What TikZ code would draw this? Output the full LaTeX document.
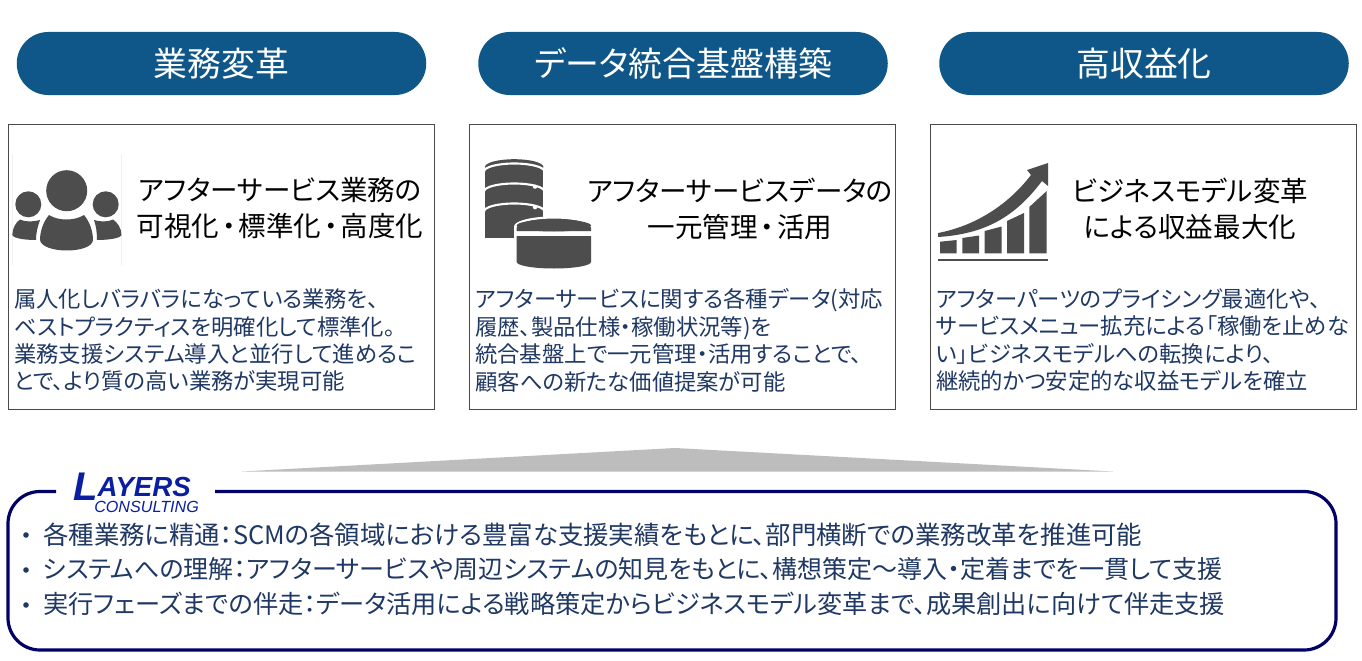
\documentclass[tikz,border=0pt]{standalone}
\usepackage{fontspec}
\setmainfont{Noto Sans CJK JP}[RawFeature=+palt]
\newfontfamily\logofont{Liberation Sans}
\definecolor{pillblue}{HTML}{0F5788}
\definecolor{bodynavy}{HTML}{1F3864}
\definecolor{framenavy}{HTML}{000066}
\definecolor{icongray}{HTML}{4D4D4D}
\definecolor{logoblue}{HTML}{0A1FA0}
\definecolor{boxgray}{HTML}{4A4A4A}
\newcommand{\middot}{\hspace{0.1em}・\hspace{0.1em}}
\tikzset{
  pill/.style={fill=pillblue,text=white,rounded corners=31.5*0.75pt,minimum width=409.5*0.75pt,minimum height=63*0.75pt,inner sep=0pt,font=\fontsize{25.4}{30}\selectfont},
  cardbox/.style={draw=boxgray,line width=0.65pt,fill=white,minimum width=426.5*0.75pt,minimum height=285*0.75pt,inner sep=0pt},
  headtext/.style={text=black,align=center,inner sep=0pt,font=\fontsize{20.65}{27}\selectfont},
  bodytext/.style={text=bodynavy,align=left,anchor=north west,inner sep=0pt,font=\fontsize{16.75}{20.6}\selectfont},
  bullettext/.style={text=bodynavy,anchor=west,inner sep=0pt},
  bulletdot/.style={circle,fill=bodynavy,minimum size=4.2pt,inner sep=0pt},
}
\begin{document}
\begin{tikzpicture}[x=0.75pt,y=-0.75pt]
\useasboundingbox (0,0) rectangle (1362,660);
\fill[white] (0,0) rectangle (1362,660);

% pills
\node[pill] (p1) at (221.5,63.5) {業務変革};
\node[pill] (p2) at (683,63.5) {データ統合基盤構築};
\node[pill] (p3) at (1144,63.5) {高収益化};

% cards
\node[cardbox] (c1) at (221.5,266.5) {};
\node[cardbox] (c2) at (682.5,266.5) {};
\node[cardbox] (c3) at (1143.5,266.5) {};

% headings
\node[headtext] (h1) at (280,208.5) {アフターサービス業務の\\可視化\middot 標準化\middot 高度化};
\node[headtext] (h2) at (740,208.5) {アフターサービスデータの\\一元管理\middot 活用};
\node[headtext] (h3) at (1190,208.5) {ビジネスモデル変革\\による収益最大化};

% body
\node[bodytext] (b1) at (14,288.5) {属人化しバラバラになっている業務を、\\ベストプラクティスを明確化して標準化。\\業務支援システム導入と並行して進めるこ\\とで、より質の高い業務が実現可能};
\node[bodytext] (b2) at (475,288.5) {アフターサービスに関する各種データ(対応\\履歴、製品仕様・稼働状況等)を\\統合基盤上で一元管理・活用することで、\\顧客への新たな価値提案が可能};
\node[bodytext] (b3) at (936,288.5) {アフターパーツのプライシング最適化や、\\サービスメニュー拡充による「稼働を止めな\\い」ビジネスモデルへの転換により、\\継続的かつ安定的な収益モデルを確立};

% people icon
\draw[black!6,line width=0.5pt] (12,155) -- (12,265) (121.5,155) -- (121.5,265);
\fill[icongray] (66.7,190.7) circle (20.5);
\fill[icongray] (28.3,204.3) circle (13);
\fill[icongray] (105.7,204.3) circle (13);
\fill[icongray] (49,215) .. controls (58,221) and (75,221) .. (84,215) .. controls (90,222) and (93,232) .. (93,240) .. controls (92,254) and (42,254) .. (40,240) .. controls (40,232) and (43,222) .. (49,215) -- cycle;
\fill[icongray] (20,219.5) .. controls (25,222) and (33,222) .. (40,220) .. controls (38,226) and (36,232) .. (36,240) .. controls (28,240) and (14,239) .. (12.3,235) .. controls (12.5,228) and (16,222) .. (20,219.5) -- cycle;
\fill[icongray] (113,219.5) .. controls (108,222) and (100,222) .. (94,220) .. controls (96,226) and (97,232) .. (97,240) .. controls (105,240) and (120,239) .. (121.5,235) .. controls (121.5,228) and (117,222) .. (113,219.5) -- cycle;

% database icon: upper stack
\fill[icongray] (485,167) arc[start angle=180,end angle=540,x radius=29.2,y radius=7.8];
\fill[icongray] (485,167) rectangle (543.4,238);
\draw[white,line width=1.6pt] (484,171.5) arc[start angle=180,end angle=360,x radius=30.2,y radius=8];
\draw[white,line width=1.6pt] (484,191.5) arc[start angle=180,end angle=360,x radius=30.2,y radius=8];
\draw[white,line width=1.6pt] (484,211.5) arc[start angle=180,end angle=360,x radius=30.2,y radius=8];
\fill[white] (535,186.7) circle (2.1);
\fill[white] (535,207.3) circle (2.1);
% database icon: lower drum with white halo
\fill[white] (514.2,226) arc[start angle=180,end angle=360,x radius=39.6,y radius=9] -- (593.4,226) arc[start angle=0,end angle=180,x radius=39.6,y radius=9] -- cycle;
\fill[white] (514.2,226) rectangle (593.4,270);
\fill[icongray] (516.7,236) -- (591,236) -- (591,262) arc[start angle=0,end angle=180,x radius=37.15,y radius=6.5] -- cycle;
\fill[icongray] (516.7,228) arc[start angle=180,end angle=360,x radius=37.15,y radius=10] -- (591,231) -- (516.7,231) -- cycle;
\draw[white,line width=1.6pt] (516,226.5) arc[start angle=180,end angle=360,x radius=37.8,y radius=9];
\fill[icongray] (516.7,225.5) arc[start angle=180,end angle=540,x radius=37.15,y radius=6];

% chart icon
\fill[icongray] (940,241.7) -- (956.7,240) -- (956.7,253.3) -- (940,253.3) -- cycle;
\fill[icongray] (962.3,238) -- (979,235.5) -- (979,253.3) -- (962.3,253.3) -- cycle;
\fill[icongray] (984.7,231) -- (1001.7,226.5) -- (1001.7,253.3) -- (984.7,253.3) -- cycle;
\fill[icongray] (1007,221) -- (1024,213) -- (1024,253.3) -- (1007,253.3) -- cycle;
\fill[icongray] (1029.3,207) -- (1046.7,191) -- (1046.7,253.3) -- (1029.3,253.3) -- cycle;
\fill[icongray] (938,233) .. controls (975,226) and (1008,205) .. (1031,175) -- (1027,170) -- (1048,163) -- (1048,186) -- (1042,181) .. controls (1015,217) and (985,234) .. (938,237) -- cycle;
\draw[icongray,line width=1pt] (938,260) -- (1048,260);

% tapered pointer
\fill[black!26] (242,471.5) -- (675,448) -- (1113,471.5) -- cycle;

% bottom frame with a gap for the logo
\draw[framenavy,line width=2.4pt,rounded corners=24pt] (56,491.5) -- (8,491.5) -- (8,650) -- (1336,650) -- (1336,491.5) -- (215,491.5);

% logo
\node[inner sep=0pt,anchor=base west,text=logoblue,font=\logofont\bfseries\itshape] (logo) at (73,500) {\fontsize{30}{30}\selectfont L\raisebox{3pt}{\fontsize{20.7}{22}\selectfont AYERS}};
\node[inner sep=0pt,anchor=base west,text=logoblue,font=\logofont\itshape\fontsize{12.1}{12}\selectfont] (logoC) at (94,512) {CONSULTING};

% bullets
\node[bulletdot] (d1) at (26,535) {};
\node[bulletdot] (d2) at (26,570) {};
\node[bulletdot] (d3) at (26,605) {};
\node[bullettext,font=\fontsize{19.07}{22}\selectfont] (t1) at (43,535) {各種業務に精通：SCMの各領域における豊富な支援実績をもとに、部門横断での業務改革を推進可能};
\node[bullettext,font=\fontsize{18.75}{22}\selectfont] (t2) at (43,569) {システムへの理解：アフターサービスや周辺システムの知見をもとに、構想策定～導入・定着までを一貫して支援};
\node[bullettext,font=\fontsize{18.9}{22}\selectfont] (t3) at (43,604) {実行フェーズまでの伴走：データ活用による戦略策定からビジネスモデル変革まで、成果創出に向けて伴走支援};
\end{tikzpicture}
\end{document}
